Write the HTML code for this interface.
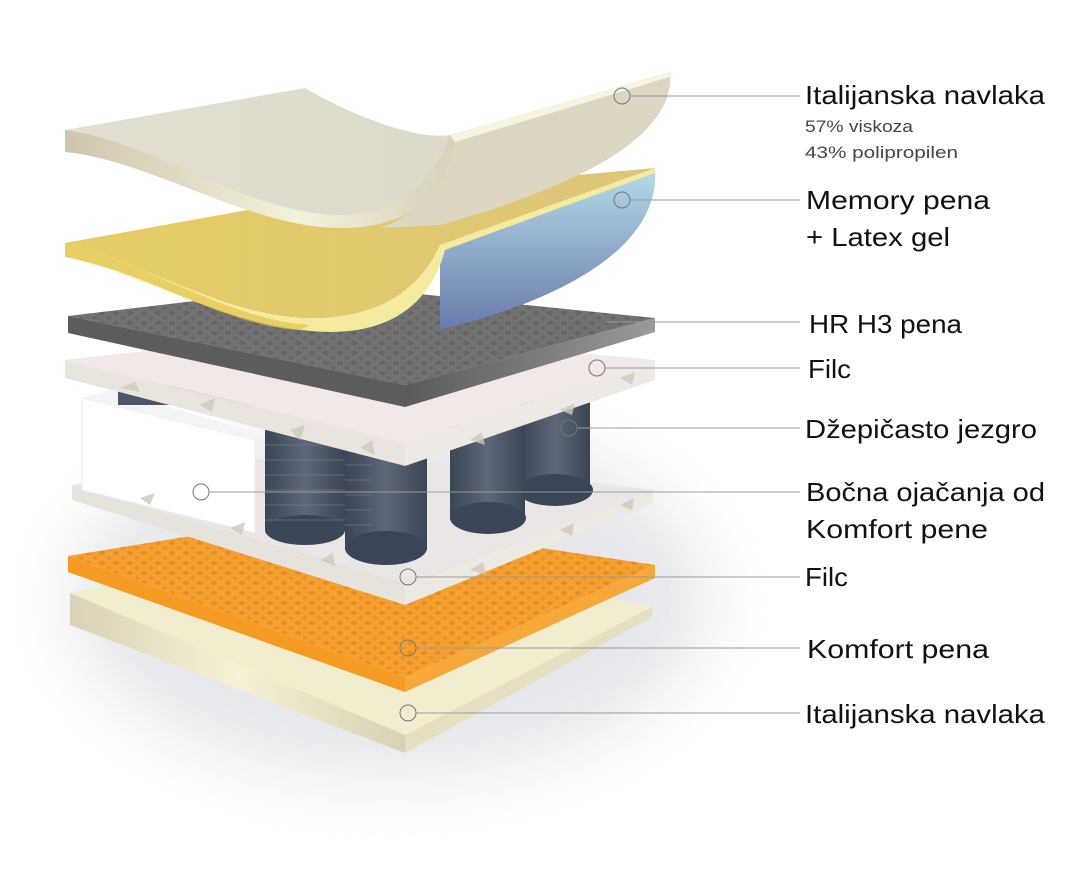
<!DOCTYPE html>
<html><head><meta charset="utf-8"><style>
html,body{margin:0;padding:0;background:#fff;}
svg{display:block;}
text{font-family:"Liberation Sans","DejaVu Sans",sans-serif;fill:#111;}
</style></head><body>
<svg width="1080" height="872" viewBox="0 0 1080 872" xmlns="http://www.w3.org/2000/svg">
<defs>
<filter id="blur" x="-30%" y="-30%" width="160%" height="160%"><feGaussianBlur stdDeviation="30"/></filter>
<linearGradient id="beigeTop" x1="0" y1="0" x2="1" y2="0"><stop offset="0" stop-color="#e2dfd2"/><stop offset="1" stop-color="#ddd8c6"/></linearGradient>
<linearGradient id="beigeEdge" x1="0" y1="0" x2="1" y2="0"><stop offset="0" stop-color="#cfc5ad"/><stop offset="0.6" stop-color="#f3f2dc"/><stop offset="1" stop-color="#d8d0b8"/></linearGradient>
<linearGradient id="yellow" x1="0" y1="0" x2="1" y2="0"><stop offset="0" stop-color="#e6cd62"/><stop offset="1" stop-color="#dcc57a"/></linearGradient>
<linearGradient id="blue" x1="0" y1="0" x2="0" y2="1"><stop offset="0" stop-color="#b5dcea"/><stop offset="1" stop-color="#6a7aaa"/></linearGradient>
<linearGradient id="greyR" x1="0" y1="0" x2="1" y2="0"><stop offset="0" stop-color="#5a5a5a"/><stop offset="1" stop-color="#9a9a9a"/></linearGradient>
<linearGradient id="creamF" x1="0" y1="0" x2="1" y2="0"><stop offset="0" stop-color="#d9d2b8"/><stop offset="0.5" stop-color="#f6f1d4"/><stop offset="1" stop-color="#d8d1b5"/></linearGradient>
<linearGradient id="cyl" x1="0" y1="0" x2="1" y2="0"><stop offset="0" stop-color="#3a4555"/><stop offset="0.5" stop-color="#5d6878"/><stop offset="1" stop-color="#3a4555"/></linearGradient>
<pattern id="dots" width="14" height="10" patternUnits="userSpaceOnUse"><ellipse cx="4" cy="3" rx="3" ry="2" fill="rgba(0,0,0,0.12)"/><ellipse cx="11" cy="8" rx="2.5" ry="1.6" fill="rgba(0,0,0,0.1)"/></pattern>
<pattern id="odots" width="14" height="10" patternUnits="userSpaceOnUse"><ellipse cx="4" cy="3" rx="3" ry="2" fill="rgba(200,90,0,0.3)"/><ellipse cx="11" cy="8" rx="2.5" ry="1.6" fill="rgba(200,90,0,0.25)"/></pattern>
</defs>

<!-- shadow -->
<ellipse cx="390" cy="600" rx="320" ry="180" fill="#c9ccd3" opacity="0.45" filter="url(#blur)"/>

<!-- bottom cream layer -->
<polygon points="70,593 330,540 652,607 405,735" fill="#f3edd0"/>
<polygon points="70,593 405,735 405,753 70,625" fill="url(#creamF)"/>
<polygon points="405,735 652,607 652,617 405,753" fill="#e6dfc2"/>

<!-- orange -->
<polygon points="68,556 320,515 655,565 405,677" fill="#f4a030"/>
<polygon points="68,556 320,515 655,565 405,677" fill="url(#odots)"/>
<polygon points="68,556 405,677 405,692 68,572" fill="#f59a23"/>
<polygon points="405,677 655,565 655,578 405,692" fill="#f7a83a"/>

<!-- filc 2 -->
<polygon points="72,485 330,450 653,490 405,585" fill="#ebe6e6"/>
<polygon points="72,485 405,585 405,605 72,500" fill="#e6e2dc"/>
<polygon points="405,585 653,490 653,503 405,605" fill="#ece8e2"/>

<!-- white side block -->
<polygon points="82,398 255,440 255,533 82,490" fill="#ffffff" stroke="#eee"/>
<polygon points="82,398 110,390 265,435 255,440" fill="#f4f4f4"/>

<!-- springs -->
<rect x="520" y="400" width="70" height="90" fill="url(#cyl)"/>
<ellipse cx="555" cy="490" rx="38" ry="16" fill="#3a4658"/>
<rect x="450" y="425" width="75" height="95" fill="url(#cyl)"/>
<ellipse cx="488" cy="518" rx="38" ry="16" fill="#3a4658"/>
<rect x="265" y="430" width="80" height="100" fill="url(#cyl)"/>
<ellipse cx="305" cy="530" rx="40" ry="15" fill="#3a4658"/>
<rect x="345" y="450" width="82" height="100" fill="url(#cyl)"/>
<ellipse cx="386" cy="548" rx="41" ry="17" fill="#3a4658"/>
<g stroke="#7c8696" stroke-width="0.7" opacity="0.7">
<line x1="265" y1="445" x2="345" y2="445"/><line x1="265" y1="460" x2="345" y2="460"/><line x1="265" y1="475" x2="345" y2="475"/><line x1="265" y1="490" x2="345" y2="490"/><line x1="265" y1="505" x2="345" y2="505"/><line x1="265" y1="520" x2="345" y2="520"/>
<line x1="345" y1="465" x2="372" y2="465"/><line x1="345" y1="480" x2="372" y2="480"/><line x1="345" y1="495" x2="372" y2="495"/><line x1="345" y1="510" x2="372" y2="510"/><line x1="345" y1="525" x2="372" y2="525"/>
</g>
<rect x="118" y="385" width="150" height="20" fill="#4a5567"/>

<!-- filc 1 -->
<polygon points="65,360 330,330 655,360 405,443" fill="#f2e8e8"/>
<polygon points="65,360 405,443 405,466 65,378" fill="#e9e5de"/>
<polygon points="405,443 655,360 655,380 405,466" fill="#ede9e4"/>
<g fill="#cfc9bb" opacity="0.8">
<polygon points="120,388 135,382 140,392"/><polygon points="200,405 215,398 212,412"/><polygon points="290,430 305,425 300,440"/><polygon points="360,448 372,440 375,455"/><polygon points="470,440 482,432 485,445"/><polygon points="560,410 575,403 572,415"/><polygon points="620,378 635,372 632,385"/>
<polygon points="140,498 155,493 150,505"/><polygon points="230,528 245,522 242,535"/><polygon points="320,560 333,553 335,566"/><polygon points="470,570 483,562 486,575"/><polygon points="560,530 574,523 572,536"/><polygon points="620,505 634,498 632,510"/>
</g>

<!-- HR grey -->
<polygon points="68,316 330,285 655,318 405,385" fill="#727272"/>
<polygon points="68,316 330,285 655,318 405,385" fill="url(#dots)"/>
<polygon points="68,316 405,385 405,407 68,333" fill="#5c5c5c"/>
<polygon points="405,385 655,318 655,332 405,407" fill="url(#greyR)"/>

<!-- memory foam -->
<path d="M440,245 L655,168 C660,230 600,290 440,330 Z" fill="url(#blue)"/>
<path d="M65,243 L330,195 C420,205 470,190 520,180 L655,168 L440,245 C420,290 380,315 320,318 C230,320 150,265 65,243 Z" fill="url(#yellow)"/>
<path d="M65,243 C150,265 230,320 320,318 C380,315 420,290 440,245 L655,168 L655,173 L445,250 C430,305 390,332 330,332 C230,330 150,275 65,257 Z" fill="#f4eb9e"/>
<path d="M65,243 C150,265 230,320 310,325 L300,330 C220,325 150,272 65,257 Z" fill="#e3c34a" opacity="0.7"/>

<!-- top cover -->
<path d="M65,130 L305,88 C360,120 420,140 450,135 L670,72 L450,140 C430,200 390,225 340,225 C250,225 150,155 65,150 Z" fill="url(#beigeTop)"/>
<path d="M450,135 L670,72 C675,130 600,180 440,225 L380,228 C420,215 440,180 450,135 Z" fill="#ddd6c2"/>
<path d="M65,130 C150,140 250,215 340,215 C390,215 430,190 450,135 L455,145 C440,205 400,228 340,228 C250,228 150,160 65,152 Z" fill="url(#beigeEdge)"/>
<path d="M450,135 L670,72 L673,76 L455,142 Z" fill="#f6f5e0"/>

<!-- connectors -->
<g stroke="#9a9a9a" stroke-width="1" fill="none">
<line x1="630" y1="96" x2="800" y2="96"/>
<line x1="630" y1="200" x2="800" y2="200"/>
<line x1="605" y1="322" x2="800" y2="322"/>
<line x1="605" y1="368" x2="800" y2="368"/>
<line x1="577" y1="428" x2="800" y2="428"/>
<line x1="209" y1="492" x2="800" y2="492"/>
<line x1="416" y1="577" x2="800" y2="577"/>
<line x1="416" y1="648" x2="800" y2="648"/>
<line x1="416" y1="713" x2="800" y2="713"/>
</g>
<g stroke="#777" stroke-width="1" fill="none">
<circle cx="622" cy="96" r="8"/><circle cx="622" cy="200" r="8"/><circle cx="597" cy="322" r="8"/><circle cx="597" cy="368" r="8"/><circle cx="569" cy="428" r="8"/><circle cx="201" cy="492" r="8"/><circle cx="408" cy="577" r="8"/><circle cx="408" cy="648" r="8"/><circle cx="408" cy="713" r="8"/>
</g>

<!-- labels -->
<g font-size="26">
<text x="805" y="104" textLength="240" lengthAdjust="spacingAndGlyphs">Italijanska navlaka</text>
<text x="806" y="209" textLength="184" lengthAdjust="spacingAndGlyphs">Memory pena</text>
<text x="806" y="246" textLength="144" lengthAdjust="spacingAndGlyphs">+ Latex gel</text>
<text x="809" y="333" textLength="153" lengthAdjust="spacingAndGlyphs">HR H3 pena</text>
<text x="808" y="378" textLength="43" lengthAdjust="spacingAndGlyphs">Filc</text>
<text x="805" y="438" textLength="232" lengthAdjust="spacingAndGlyphs">Džepičasto jezgro</text>
<text x="806" y="501" textLength="239" lengthAdjust="spacingAndGlyphs">Bočna ojačanja od</text>
<text x="806" y="538" textLength="182" lengthAdjust="spacingAndGlyphs">Komfort pene</text>
<text x="805" y="586" textLength="43" lengthAdjust="spacingAndGlyphs">Filc</text>
<text x="807" y="658" textLength="182" lengthAdjust="spacingAndGlyphs">Komfort pena</text>
<text x="805" y="723" textLength="240" lengthAdjust="spacingAndGlyphs">Italijanska navlaka</text>
</g>
<g font-size="17">
<text x="805" y="132" style="fill:#444" textLength="108" lengthAdjust="spacingAndGlyphs">57% viskoza</text>
<text x="805" y="158" style="fill:#444" textLength="153" lengthAdjust="spacingAndGlyphs">43% polipropilen</text>
</g>
</svg>
</body></html>
